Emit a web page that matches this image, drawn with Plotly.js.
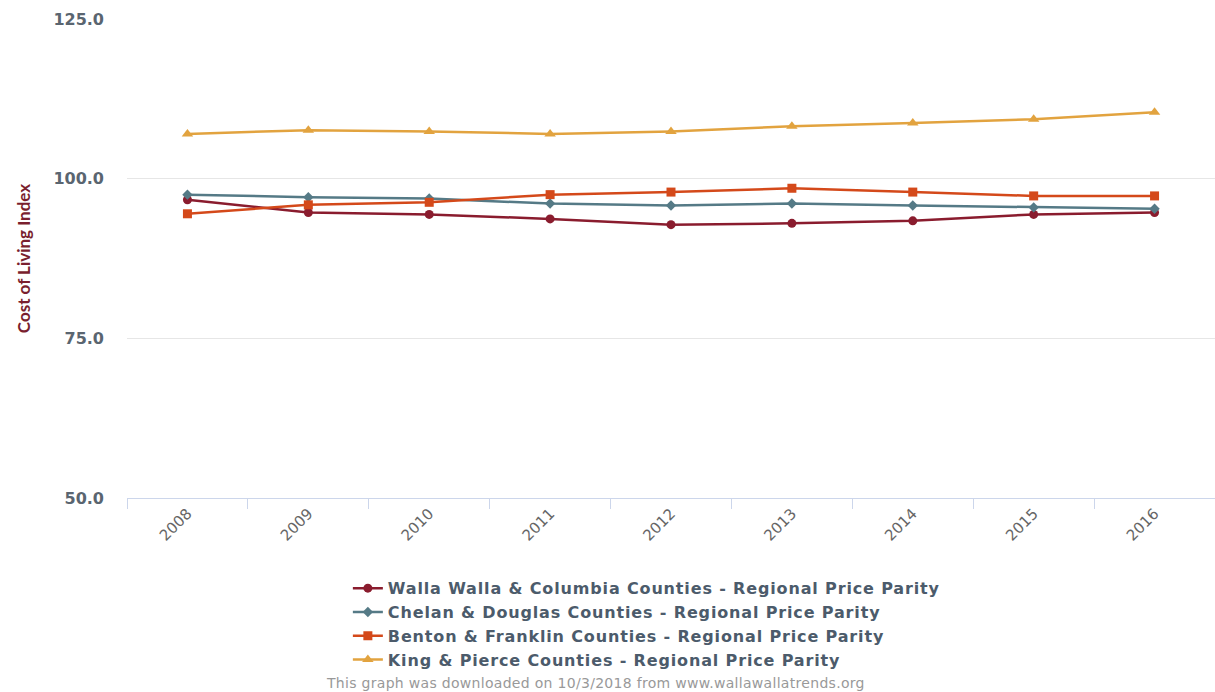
<!DOCTYPE html>
<html>
<head>
<meta charset="utf-8">
<script src="https://cdn.plot.ly/plotly-3.0.1.min.js"></script>
<style>
html,body{margin:0;padding:0;background:#fff;}
#chart{width:1215px;height:692px;}
.legendtext{letter-spacing:0.85px;}
.annotation-text{letter-spacing:0.3px;}
</style>
</head>
<body>
<div id="chart"></div>
<script>
const years = ["2008","2009","2010","2011","2012","2013","2014","2015","2016"];
const wallaWalla = [96.7, 94.7, 94.4, 93.7, 92.8, 93.0, 93.4, 94.4, 94.7];
const chelan = [97.5, 97.1, 96.9, 96.1, 95.8, 96.1, 95.8, 95.5, 95.3];
const benton = [94.5, 95.9, 96.3, 97.5, 97.9, 98.5, 97.9, 97.3, 97.3];
const king = [107.0, 107.6, 107.4, 107.0, 107.4, 108.2, 108.7, 109.3, 110.4];
const seriesNames = [
  "Walla Walla & Columbia Counties - Regional Price Parity",
  "Chelan & Douglas Counties - Regional Price Parity",
  "Benton & Franklin Counties - Regional Price Parity",
  "King & Pierce Counties - Regional Price Parity"
];
const yTicks = [50, 75, 100, 125];

function tr(name, vals, color, symbol, size) {
  return {
    x: years, y: vals, name: name, type: "scatter", mode: "lines+markers",
    line: {color: color, width: 2.5},
    marker: {color: color, symbol: symbol, size: size},
    hoverinfo: "x+y+name"
  };
}
const data = [
  tr(seriesNames[0], wallaWalla, "#8a1c2e", "circle", 9),
  tr(seriesNames[1], chelan, "#557a86", "diamond", 8),
  tr(seriesNames[2], benton, "#d4491a", "square", 9),
  tr(seriesNames[3], king, "#e2a33f", "triangle-up", 10)
];
const layout = {
  width: 1215, height: 692,
  margin: {l: 127, r: 0, t: 19, b: 194, pad: 0},
  paper_bgcolor: "#fff", plot_bgcolor: "#fff",
  showlegend: true,
  font: {family: "DejaVu Sans, sans-serif"},
  xaxis: {
    type: "category",
    tickson: "boundaries",
    ticks: "outside", ticklen: 10, tickcolor: "#ccd6eb", tickwidth: 1,
    showline: true, linecolor: "#ccd6eb", linewidth: 1,
    showgrid: false, zeroline: false,
    tickangle: -45,
    tickfont: {family: "DejaVu Sans, sans-serif", size: 15, color: "#666"},
    range: [-0.5, 8.5]
  },
  yaxis: {
    range: [50, 125],
    tickvals: yTicks,
    tickformat: ".1f",
    showgrid: true, gridcolor: "#e6e6e6", gridwidth: 1,
    zeroline: false, showline: false,
    ticks: "", ticklen: 0,
    ticklabelstandoff: 22,
    tickfont: {family: "DejaVu Sans, sans-serif", size: 16, color: "#5a6570", weight: 700},
    title: {text: "Cost of Living Index", standoff: 18,
      font: {family: "Lato, sans-serif", size: 17, color: "#7a1f2e", weight: 700}}
  },
  legend: {
    orientation: "v",
    x: 0.203, xanchor: "left",
    y: -0.153, yanchor: "top",
    font: {family: "DejaVu Sans, sans-serif", size: 16, color: "#4c5b6b", weight: 700},
    bgcolor: "rgba(0,0,0,0)",
    itemclick: false
  },
  annotations: [{
    text: "This graph was downloaded on 10/3/2018 from www.wallawallatrends.org",
    xref: "paper", yref: "paper", x: 0.431, y: -0.387, xanchor: "center", yanchor: "middle",
    showarrow: false,
    font: {family: "DejaVu Sans, sans-serif", size: 14, color: "#999"}
  }]
};
Plotly.newPlot("chart", data, layout, {displayModeBar: false, responsive: false});
</script>
</body>
</html>
